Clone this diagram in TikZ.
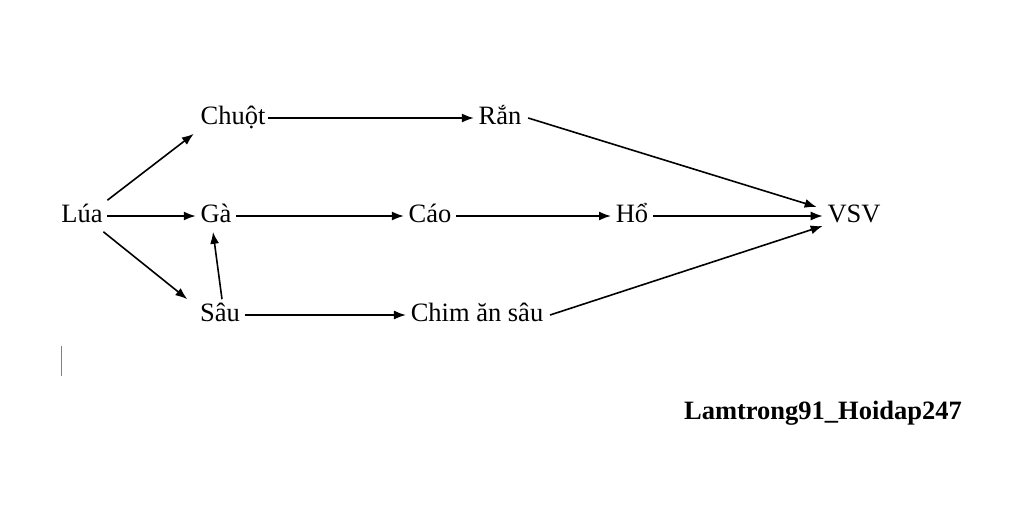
\documentclass[tikz,border=0pt]{standalone}
\usepackage{fontspec}
\setmainfont{Liberation Serif}
\usetikzlibrary{arrows.meta}

\begin{document}
\begin{tikzpicture}[
    x=1pt, y=-1pt,
    every node/.style={inner sep=4pt, font=\fontsize{26.5}{30}\selectfont, text height=17pt, text depth=5pt},
    sign/.style={font=\fontsize{26.5}{30}\selectfont\bfseries},
    ->, >={Latex[length=12pt,width=9pt]}, line width=1.6pt
]
\useasboundingbox (0,0) rectangle (1024,509);

% Producer
\node (lua) at (82, 216) {Lúa};

% Consumers
\node (chuot) at (233, 118) {Chuột};
\node (ga) at (216, 216) {Gà};
\node (sau) at (220, 315) {Sâu};
\node (ran) at (500, 118) {Rắn};
\node (cao) at (430, 216) {Cáo};
\node (ho) at (632, 216) {Hổ};
\node (chim) at (477, 315) {Chim ăn sâu};

% Decomposer
\node (vsv) at (854, 216) {VSV};

% Signature
\node[sign] (sign) at (823, 413) {Lamtrong91\_Hoidap247};

% Links from the producer
\draw (lua.north east) -- ([xshift=-2pt]chuot.south west);
\draw (lua) -- (ga);
\draw ([xshift=-4pt]lua.south east) -- ([xshift=-8pt]sau.north west);
\draw ([xshift=2pt]sau.north) -- ([xshift=-3pt]ga.south);

% Upper chains
\draw ([xshift=-2pt]chuot.east) -- (ran);
\draw (ga) -- (cao);
\draw (cao) -- (ho);
\draw (sau) -- (chim);

% Links into the decomposer
\draw ([xshift=2pt]ran.east) -- ([xshift=-6pt,yshift=9pt]vsv.west);
\draw (ho) -- (vsv);
\draw ([xshift=2pt]chim.east) -- ([yshift=-10pt]vsv.west);

% Cursor mark
\draw[-, gray, line width=1pt] (61, 346) -- (61, 376);

\end{tikzpicture}
\end{document}
